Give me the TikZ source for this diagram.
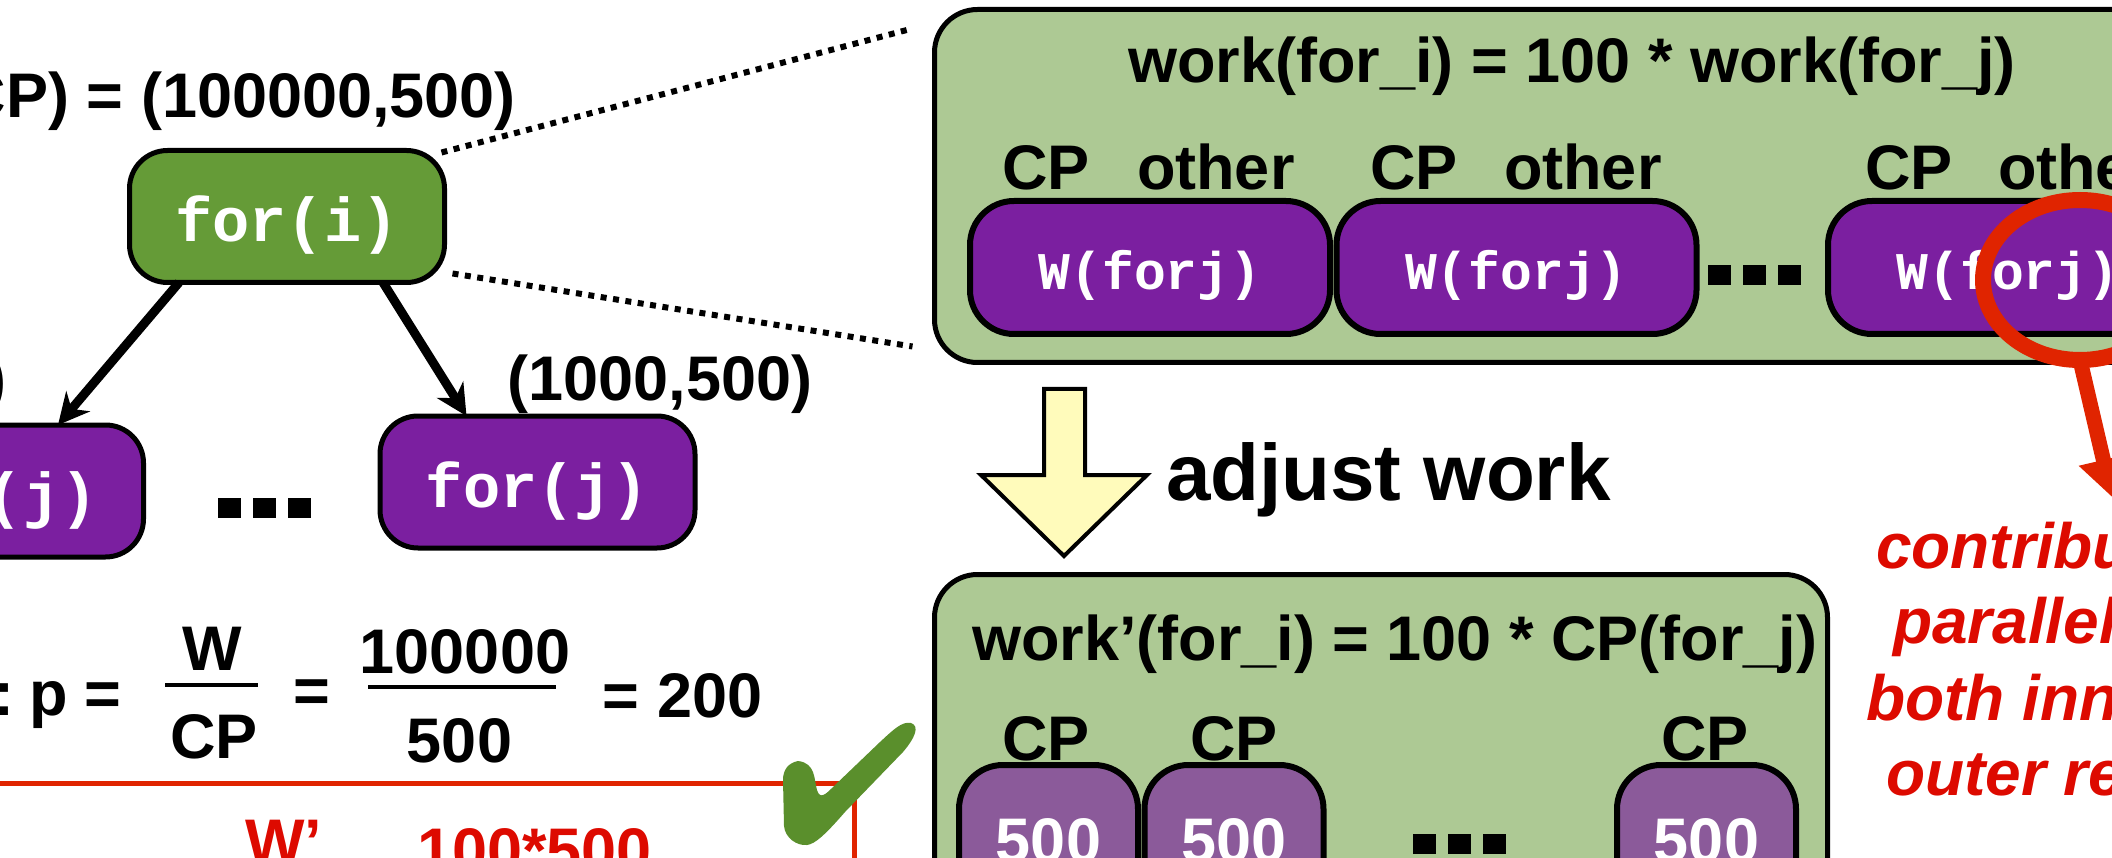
\documentclass[tikz,border=0pt]{standalone}
\usepackage{fontspec}
\setmainfont{Liberation Sans}
\newfontfamily\codefont{Liberation Mono}
\usetikzlibrary{arrows.meta,shapes.geometric}

\definecolor{loopGreen}{HTML}{659B37}
\definecolor{paleGreen}{HTML}{ADC994}
\definecolor{loopPurple}{HTML}{7B1FA0}
\definecolor{softPurple}{HTML}{8B5A9A}
\definecolor{paleYellow}{HTML}{FFFBBB}
\definecolor{alertRed}{HTML}{E02400}
\definecolor{textRed}{HTML}{DD0A00}
\definecolor{checkGreen}{HTML}{5A8F2C}

\tikzset{
  lbl/.style={font=\fontsize{63}{76}\selectfont\bfseries, inner sep=0pt, outer sep=0pt},
  bigLbl/.style={font=\fontsize{80}{90}\selectfont\bfseries, inner sep=0pt, outer sep=0pt},
  redLbl/.style={font=\fontsize{64}{76}\selectfont\bfseries\itshape, text=textRed, inner sep=0pt, outer sep=0pt},
  loopbox/.style={draw=black, line width=5pt, rounded corners=38pt, minimum width=315pt,
    minimum height=132pt, inner sep=0pt, outer sep=0pt, text=white,
    text height=50pt, text depth=0pt,
    font=\codefont\bfseries\fontsize{62}{70}\selectfont},
  panel/.style={draw=black, line width=5pt, fill=paleGreen, rounded corners=43pt,
    inner sep=0pt, outer sep=0pt},
  workbox/.style={draw=black, line width=6pt, fill=loopPurple, rounded corners=44pt,
    minimum width=360pt, minimum height=133pt, inner sep=0pt, outer sep=0pt, text=white,
    text height=45pt, text depth=0pt,
    font=\codefont\bfseries\fontsize{53}{60}\selectfont},
  cpbox/.style={draw=black, line width=6pt, fill=softPurple, rounded corners=44pt,
    minimum width=179pt, minimum height=152pt, inner sep=0pt, outer sep=0pt, anchor=north,
    text=white, font=\fontsize{63}{76}\selectfont\bfseries},
  treearrow/.style={line width=9pt, -{Stealth[length=31pt,width=31pt,inset=10pt]}},
  zoomline/.style={line width=6pt, dash pattern=on 6pt off 6.5pt},
  pointer/.style={draw=alertRed, line width=15pt, -{Triangle[length=38pt,width=48pt]}},
  blockarrow/.style={draw=black, line width=4pt, fill=paleYellow, miter limit=10},
  fracbar/.style={line width=4pt},
}

\begin{document}
\begin{tikzpicture}[x=1pt,y=-1pt]
\useasboundingbox (0,0) rectangle (2112,858);
\clip (0,0) rectangle (2112,858);

% ---------- loop tree ----------
\node[loopbox, fill=loopGreen] (fi) at (287,216.5) {for(i)};
\node[loopbox, fill=loopPurple] (lj) at (-14,491) {for(j)};
\node[loopbox, fill=loopPurple] (rj) at (537.5,482) {for(j)};

\node[lbl, anchor=base east] (wcp) at (516,118) {(W,CP) = (100000,500)};
\node[lbl, anchor=base] (rjw) at (660,400) {(1000,500)};
\node[lbl, anchor=base east] (ljw) at (7,400) {(1000,500)};

\draw[treearrow] ([xshift=-108pt]fi.south) -- ([xshift=72pt]lj.north);
\draw[treearrow] ([xshift=96pt]fi.south) -- ([xshift=-71pt]rj.north);

\foreach \dx in {0,35,70} {\fill (218+\dx,498) rectangle ++(23,20);}

% ---------- parallelism ----------
\node[lbl, anchor=base east] (colon) at (14,715) {:};
\node[lbl, anchor=base west] (peq) at (29,715) {p =};
\node[lbl, anchor=base] (fw) at (212,670) {W};
\draw[fracbar] (165,685) -- (258,685);
\node[lbl, anchor=base] (fcp) at (214,758) {CP};
\node[lbl, anchor=base] (eqb) at (311.5,712) {=};
\node[lbl, anchor=base] (num) at (465,673) {100000};
\draw[fracbar] (368,687) -- (556,687);
\node[lbl, anchor=base] (den) at (459.5,762) {500};
\node[lbl, anchor=base] (res) at (682.5,717) {= 200};

% adjusted parallelism box
\draw[alertRed, line width=5pt] (-20,783) rectangle (854,1000);
\node[lbl, text=textRed, anchor=base] (wpr) at (283.5,863) {W’};
\node[lbl, text=textRed, anchor=base] (rv) at (534.5,872) {100*500};

% check mark
\fill[checkGreen] (798,761) .. controls (788,763) and (783,770) .. (783,780)
  -- (784,826) .. controls (785,838) and (797,846) .. (807,845)
  .. controls (815,844) and (825,835) .. (845,812)
  -- (903,752) .. controls (915,738) and (920,726) .. (911,723)
  .. controls (902,721) and (893,730) .. (880,742)
  -- (833,787) .. controls (826,794) and (820,800) .. (817,790)
  .. controls (814,780) and (816,763) .. (798,761) -- cycle;

% ---------- work of the outer loop ----------
\node[panel, minimum width=1400pt, minimum height=353pt, anchor=north west] (ub) at (934.5,9.5) {};
\draw[zoomline] ([shift={(-3,2)}]fi.north east) -- ([shift={(-22,19)}]ub.north west);
\draw[zoomline] ([shift={(8,-9)}]fi.south east) -- ([shift={(-22,-16)}]ub.south west);

\node[lbl, anchor=base] (ut) at (1572,83) {work(for\_i) = 100 * work(for\_j)};

\node[workbox] (w1) at (1150,267.5) {W(forj)};
\node[workbox] (w2) at (1516.5,267.5) {W(forj)};
\node[workbox] (w3) at (2008,267.5) {W(forj)};

\node[lbl, anchor=base west] (cp1) at (1002,190) {CP};
\node[lbl, anchor=base west] (ot1) at (1137,190) {other};
\node[lbl, anchor=base west] (cp2) at (1370,190) {CP};
\node[lbl, anchor=base west] (ot2) at (1504,190) {other};
\node[lbl, anchor=base west] (cp3) at (1865,190) {CP};
\node[lbl, anchor=base west] (ot3) at (1998,190) {other};

\foreach \dx in {0,35,70} {\fill (1708+\dx,265) rectangle ++(23,20);}

% highlighted inner loop
\node[draw=alertRed, line width=16pt, ellipse, minimum width=194pt, minimum height=160pt,
  inner sep=0pt, outer sep=0pt] (hl) at (2080,280) {};
\coordinate (hltip) at (2112,497);
\draw[pointer] (hl.south) -- (hltip);

\node[redLbl, anchor=base west] (r1) at (1876,568) {contributes};
\node[redLbl, anchor=base west] (r2) at (1893,643) {parallelism};
\node[redLbl, anchor=base west] (r3) at (1866,720) {both inner};
\node[redLbl, anchor=base west] (r4) at (1886,795) {outer regions};

% ---------- adjust work ----------
\draw[blockarrow] (1044,389) -- (1085,389) -- (1085,475) -- (1147,475) -- (1064,556)
  -- (981,475) -- (1044,475) -- cycle;
\node[bigLbl, anchor=base west] (aw) at (1166,500) {adjust work};

\node[panel, minimum width=893pt, minimum height=450pt, anchor=north west] (lb) at (934.5,574.5) {};
\node[lbl, anchor=base west] (lt) at (972,660) {work’(for\_i) = 100 * CP(for\_j)};

\node[cpbox] (c1) at (1048.5,765) {500};
\node[cpbox] (c2) at (1234,765) {500};
\node[cpbox] (c3) at (1706.5,765) {500};

\node[lbl, anchor=base west] (lcp1) at (1002,760) {CP};
\node[lbl, anchor=base west] (lcp2) at (1190,760) {CP};
\node[lbl, anchor=base west] (lcp3) at (1661,760) {CP};

\foreach \dx in {0,35,70} {\fill (1413+\dx,834) rectangle ++(23,20);}
\end{tikzpicture}
\end{document}
